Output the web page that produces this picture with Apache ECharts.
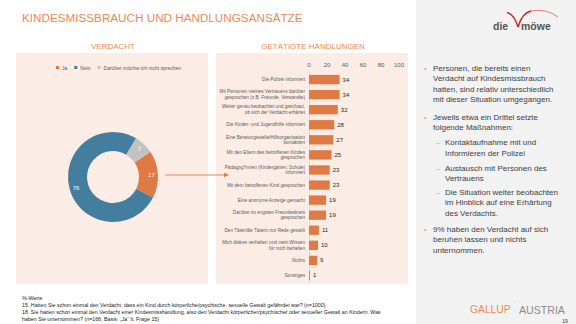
<!DOCTYPE html>
<html>
<head>
<meta charset="utf-8">
<script src="https://cdn.jsdelivr.net/npm/echarts@6/dist/echarts.min.js"></script>
<style>
  html, body { margin: 0; padding: 0; background: #ffffff; }
  #chart { width: 576px; height: 324px; }
</style>
</head>
<body>
<div id="chart"></div>
<script>
// Suspicion of abuse (question 15)
const suspicionCategories = ['Ja', 'Nein', 'Darüber möchte ich nicht sprechen'];
const suspicionValues = [17, 76, 7];

// Actions taken (question 18)
const actionCategories = [
  'Die Polizei informiert',
  'Mit Personen meines Vertrauens darüber\ngesprochen (z.B. Freunde, Verwandte)',
  'Weiter genau beobachtet und geschaut,\nob sich der Verdacht erhärtet',
  'Die Kinder- und Jugendhilfe informiert',
  'Eine Beratungsstelle/Hilfsorganisation\nkontaktiert',
  'Mit den Eltern des betroffenen Kindes\ngesprochen',
  'Pädagog*innen (Kindergarten, Schule)\ninformiert',
  'Mit dem betroffenen Kind gesprochen',
  'Eine anonyme Anzeige gemacht',
  'Darüber im engsten Freundeskreis\ngesprochen',
  'Den Täter/die Täterin zur Rede gestellt',
  'Mich diskret verhalten und mein Wissen\nfür mich behalten',
  'Nichts',
  'Sonstiges'
];
const actionValues = [34, 34, 32, 28, 27, 25, 23, 23, 19, 19, 11, 10, 9, 1];

const axisMin = 0, axisMax = 100, axisStep = 20;

const FONT = "'Liberation Sans', Arial, sans-serif";
const ORANGE = '#e07a44';
const TITLE_ORANGE = '#ec8a55';
const BLUE = '#447e9e';
const GREY = '#c2c2c2';
const TEXT = '#404040';
const BEIGE = '#fbede6';

const bulletLines = [
  { kind: 'b', y: 68, t: 'Personen, die bereits einen' },
  { kind: 'c', y: 78.5, t: 'Verdacht auf Kindesmissbrauch' },
  { kind: 'c', y: 89, t: 'hatten, sind relativ unterschiedlich' },
  { kind: 'c', y: 99.5, t: 'mit dieser Situation umgegangen.' },
  { kind: 'b', y: 117, t: 'Jeweils etwa ein Drittel setzte' },
  { kind: 'c', y: 127.5, t: 'folgende Maßnahmen:' },
  { kind: 'd', y: 142.5, t: 'Kontaktaufnahme mit und' },
  { kind: 'dc', y: 153, t: 'Informieren der Polizei' },
  { kind: 'd', y: 168, t: 'Austausch mit Personen des' },
  { kind: 'dc', y: 178.5, t: 'Vertrauens' },
  { kind: 'd', y: 192, t: 'Die Situation weiter beobachten' },
  { kind: 'dc', y: 202.5, t: 'im Hinblick auf eine Erhärtung' },
  { kind: 'dc', y: 213, t: 'des Verdachts.' },
  { kind: 'b', y: 229, t: '9% haben den Verdacht auf sich' },
  { kind: 'c', y: 239.5, t: 'beruhen lassen und nichts' },
  { kind: 'c', y: 250, t: 'unternommen.' }
];

const footnotes = [
  '%-Werte',
  '15. Hatten Sie schon einmal den Verdacht, dass ein Kind durch körperliche/psychische, sexuelle Gewalt gefährdet war? (n=1000)',
  '18. Sie hatten schon einmal den Verdacht einer Kindesmisshandlung, also den Verdacht körperlicher/psychischer oder sexueller Gewalt an Kindern. Was',
  'haben Sie unternommen? (n=166, Basis: „Ja“ lt. Frage 15)'
];

function txt(x, y, text, opt) {
  return {
    type: 'text', x: x, y: y, z: 5,
    style: Object.assign({
      text: text, fontFamily: FONT, fontSize: 8, fill: TEXT,
      align: 'left', verticalAlign: 'middle'
    }, opt || {})
  };
}

const graphics = [
  // panels
  { type: 'rect', z: -10, shape: { x: 416, y: 0, width: 160, height: 324 }, style: { fill: '#f2f2f2' } },
  { type: 'rect', z: -10, shape: { x: 16, y: 53, width: 192, height: 231 }, style: { fill: BEIGE } },
  { type: 'rect', z: -10, shape: { x: 216, y: 53, width: 192, height: 231 }, style: { fill: BEIGE } },
  // headings
  txt(22, 17.5, 'KINDESMISSBRAUCH UND HANDLUNGSANSÄTZE', { fontSize: 11.7, fill: TITLE_ORANGE }),
  txt(113, 46.5, 'VERDACHT', { fontSize: 8, fill: TITLE_ORANGE, align: 'center' }),
  txt(313, 46.5, 'GETÄTIGTE HANDLUNGEN', { fontSize: 8, fill: TITLE_ORANGE, align: 'center' }),
  // connector from the "Ja" slice to the actions chart
  { type: 'line', z: 5, shape: { x1: 165, y1: 175, x2: 225, y2: 175 }, style: { stroke: ORANGE, lineWidth: 0.9 } },
  { type: 'polygon', z: 5, shape: { points: [[229, 175], [224, 172.8], [224, 177.2]] }, style: { fill: ORANGE } },
  // die möwe logo
  txt(493, 25.5, 'die', { fontSize: 10.5, fontWeight: 'bold', fill: '#555555' }),
  txt(521, 25.5, 'möwe', { fontSize: 10.5, fontWeight: 'bold', fill: '#555555' }),
  { type: 'bezierCurve', z: 5, shape: { x1: 507, y1: 12.5, x2: 518, y2: 27, cpx1: 514, cpy1: 14 }, style: { stroke: '#d2232a', lineWidth: 1.4, fill: 'none' } },
  { type: 'bezierCurve', z: 5, shape: { x1: 518, y1: 27, x2: 531, y2: 11, cpx1: 522, cpy1: 13 }, style: { stroke: '#d2232a', lineWidth: 1.6, fill: 'none' } },
  { type: 'bezierCurve', z: 5, shape: { x1: 531, y1: 11, x2: 558, y2: 17, cpx1: 546, cpy1: 8 }, style: { stroke: '#d2232a', lineWidth: 0.6, fill: 'none' } },
  // Gallup logo and page number
  txt(470, 309.5, 'GALLUP', { fontSize: 10.3, fill: TITLE_ORANGE }),
  txt(513.5, 303, '’', { fontSize: 6, fill: TITLE_ORANGE }),
  txt(519, 309.5, 'AUSTRIA', { fontSize: 10.6, fill: '#8d8d8d' }),
  txt(565, 320.5, '19', { fontSize: 5, fill: '#333333', align: 'center' })
];

bulletLines.forEach(function (l) {
  if (l.kind === 'b') graphics.push(txt(424, l.y, '•', { fontSize: 7, fill: '#f0a070' }));
  if (l.kind === 'd') graphics.push(txt(436, l.y, '–', { fontSize: 8, fill: '#f0a070' }));
  const x = (l.kind === 'd' || l.kind === 'dc') ? 445 : 433;
  graphics.push(txt(x, l.y, l.t, { fontSize: 8, fill: TEXT }));
});

footnotes.forEach(function (t, i) {
  graphics.push(txt(22, 297.5 + i * 6.9 + (i > 0 ? 0.5 : 0), t, { fontSize: 5.3, fill: '#222222' }));
});

const chart = echarts.init(document.getElementById('chart'), null, { renderer: 'svg', width: 576, height: 324 });

chart.setOption({
  animation: false,
  backgroundColor: '#ffffff',
  textStyle: { fontFamily: FONT },
  graphic: graphics,
  legend: {
    data: suspicionCategories,
    left: 51, top: 60,
    icon: 'rect', itemWidth: 3, itemHeight: 3, itemGap: 7,
    textStyle: { fontSize: 5, color: '#595959', fontFamily: FONT, padding: [0, 0, 0, -2] }
  },
  grid: { left: 309, right: 177, top: 72, bottom: 41 },
  xAxis: {
    type: 'value', position: 'top',
    min: axisMin, max: axisMax, interval: axisStep,
    axisLine: { show: false }, axisTick: { show: false },
    splitLine: { show: false },
    axisLabel: { fontSize: 6, color: '#595959', margin: 4, fontFamily: FONT }
  },
  yAxis: {
    type: 'category', inverse: true, data: actionCategories,
    axisLine: { show: true, lineStyle: { color: '#d0d0d0', width: 0.8 } },
    axisTick: { show: false },
    axisLabel: { fontSize: 4.7, lineHeight: 5.6, color: '#595959', margin: 4, fontFamily: FONT, align: 'right' }
  },
  series: [
    {
      type: 'pie',
      center: [113, 177], radius: [26, 45],
      startAngle: 34, clockwise: true,
      avoidLabelOverlap: false,
      color: [ORANGE, BLUE, GREY],
      label: { show: true, position: 'inside', color: '#ffffff', fontSize: 6, fontFamily: FONT, formatter: '{c}' },
      labelLine: { show: false },
      itemStyle: { borderWidth: 0 },
      emphasis: { disabled: true },
      data: suspicionCategories.map(function (n, i) { return { name: n, value: suspicionValues[i] }; })
    },
    {
      type: 'bar',
      data: actionValues,
      barCategoryGap: '38%',
      itemStyle: { color: ORANGE },
      label: { show: true, position: 'right', distance: 3, fontSize: 6, color: '#262626', fontFamily: FONT },
      emphasis: { disabled: true }
    }
  ]
});
</script>
</body>
</html>
